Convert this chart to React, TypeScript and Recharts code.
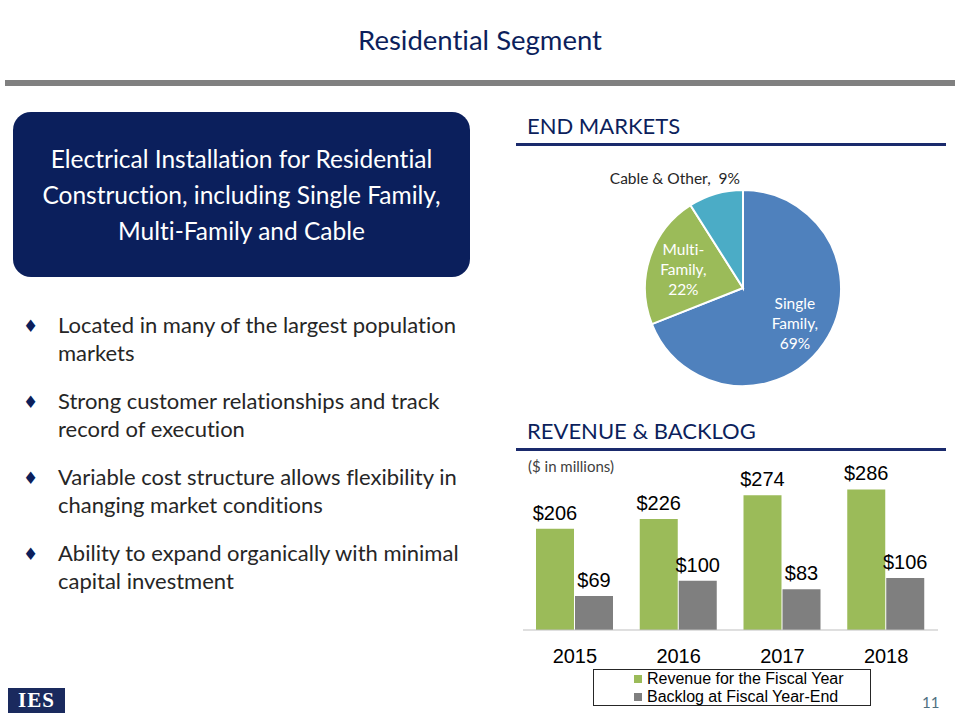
import React from 'react'
import {
  Bar,
  BarChart,
  Cell,
  LabelList,
  Pie,
  PieChart,
  XAxis,
  YAxis,
} from 'recharts'

const NAVY = '#0c1f5c'
const SANS = 'Lato, "Open Sans", sans-serif'
const ARIAL = '"Liberation Sans", Arial, sans-serif'

// end markets pie
const marketNames = ['Single Family', 'Multi-Family', 'Cable & Other']
const marketShares = [69, 22, 9]
const marketColors = ['#4f81bd', '#9bbb59', '#4bacc6']

// revenue & backlog bars
const years = ['2015', '2016', '2017', '2018']
const revenue = [206, 226, 274, 286]
const backlog = [69, 100, 83, 106]
const boundaryTicks = [0, 1, 2, 3, 4]

const bullets = [
  ['Located in many of the largest population', 'markets'],
  ['Strong customer relationships and track', 'record of execution'],
  ['Variable cost structure allows flexibility in', 'changing market conditions'],
  ['Ability to expand organically with minimal', 'capital investment'],
]

const pieData = marketNames.map((name, i) => ({
  name,
  value: marketShares[i],
}))

const barData = years.map((year, i) => ({
  year,
  revenue: revenue[i],
  backlog: backlog[i],
}))

const RAD = Math.PI / 180

function PieLabel(props: any) {
  const { cx, cy, midAngle, outerRadius, index, value, name } = props
  if (index === 2) {
    return (
      <text
        x={cx - 3}
        y={cy - outerRadius - 12}
        textAnchor="end"
        dominantBaseline="central"
        fill="#262626"
        fontFamily={SANS}
        fontSize={15.5}
        style={{ fontVariantLigatures: 'none' }}
      >
        {`${name},\u00a0\u00a0${value}%`}
      </text>
    )
  }
  const r = outerRadius * 0.64
  const x = cx + r * Math.cos(-midAngle * RAD)
  const y = cy + r * Math.sin(-midAngle * RAD)
  const lines =
    index === 0
      ? ['Single', 'Family,', `${value}%`]
      : ['Multi-', 'Family,', `${value}%`]
  return (
    <text
      x={x}
      y={y}
      textAnchor="middle"
      fill="#ffffff"
      fontFamily={SANS}
      fontSize={15.5}
      style={{ fontVariantLigatures: 'none' }}
    >
      {lines.map((l, i) => (
        <tspan key={i} x={x} y={y + (i - 1) * 20} dominantBaseline="central">
          {l}
        </tspan>
      ))}
    </text>
  )
}

function SectionHeader({ top, label }: { top: number; label: string }) {
  return (
    <>
      <div
        style={{
          position: 'absolute',
          left: 527,
          top,
          fontFamily: SANS,
          fontSize: 22,
          color: NAVY,
          lineHeight: '28px',
        }}
      >
        {label}
      </div>
      <div
        style={{
          position: 'absolute',
          left: 516,
          top: top + 31,
          width: 430,
          height: 3,
          background: '#1a2a6c',
        }}
      />
    </>
  )
}

export default function App() {
  return (
    <div
      style={{
        position: 'absolute',
        left: 0,
        top: 0,
        width: 960,
        height: 720,
        background: '#fff',
        overflow: 'hidden',
        fontFamily: SANS,
        fontVariantLigatures: 'none',
      }}
    >
      <div
        style={{
          position: 'absolute',
          left: 0,
          top: 22,
          width: 960,
          textAlign: 'center',
          fontSize: 27.5,
          color: NAVY,
          lineHeight: '36px',
        }}
      >
        Residential Segment
      </div>
      <div
        style={{
          position: 'absolute',
          left: 5,
          top: 80,
          width: 950,
          height: 6,
          background: '#808080',
        }}
      />

      <div
        style={{
          position: 'absolute',
          left: 13,
          top: 112,
          width: 457,
          height: 165,
          borderRadius: 18,
          background: '#0b1f5c',
          color: '#fff',
          textAlign: 'center',
          fontSize: 24.5,
          lineHeight: '36px',
          paddingTop: 29,
          boxSizing: 'border-box',
          whiteSpace: 'nowrap',
        }}
      >
        Electrical Installation for Residential
        <br />
        Construction, including Single Family,
        <br />
        Multi-Family and Cable
      </div>

      {bullets.map((b, i) => (
        <div
          key={i}
          style={{
            position: 'absolute',
            left: 0,
            top: 311 + i * 76,
            width: 480,
          }}
        >
          <span
            style={{
              position: 'absolute',
              left: 23,
              top: 2,
              fontSize: 17,
              color: NAVY,
              lineHeight: '26px',
              fontFamily: '"DejaVu Sans", sans-serif',
            }}
          >
            ♦
          </span>
          <div
            style={{
              position: 'absolute',
              left: 58,
              top: 0,
              fontSize: 22,
              lineHeight: '28px',
              color: '#262626',
              whiteSpace: 'nowrap',
            }}
          >
            {b[0]}
            <br />
            {b[1]}
          </div>
        </div>
      ))}

      <SectionHeader top={112} label="END MARKETS" />
      <div style={{ position: 'absolute', left: 520, top: 150 }}>
        <PieChart width={420} height={250}>
          <Pie
            data={pieData}
            dataKey="value"
            nameKey="name"
            cx={218}
            cy={133}
            outerRadius={98}
            startAngle={90}
            endAngle={-270}
            stroke="#ffffff"
            strokeWidth={2}
            label={PieLabel}
            labelLine={false}
            isAnimationActive={false}
          >
            {pieData.map((_, i) => (
              <Cell key={i} fill={marketColors[i]} />
            ))}
          </Pie>
        </PieChart>
      </div>

      <SectionHeader top={417} label="REVENUE & BACKLOG" />
      <div
        style={{
          position: 'absolute',
          left: 528,
          top: 457,
          fontSize: 15,
          color: '#404040',
        }}
      >
        ($ in millions)
      </div>
      <div style={{ position: 'absolute', left: 500, top: 440 }}>
        <BarChart
          width={460}
          height={236}
          data={barData}
          margin={{ top: 18, right: 22, bottom: 0, left: 23 }}
          barGap={1}
        >
          <XAxis
            xAxisId="a"
            type="number"
            domain={[0, 4]}
            ticks={boundaryTicks}
            tick={false}
            tickSize={6}
            height={6}
            axisLine={{ stroke: '#bfbfbf' }}
            tickLine={{ stroke: '#bfbfbf' }}
          />
          <XAxis
            xAxisId="b"
            dataKey="year"
            axisLine={false}
            tickLine={false}
            tickMargin={7}
            height={40}
            tick={{ fill: '#000', fontFamily: ARIAL, fontSize: 20 }}
          />
          <YAxis hide domain={[0, 350]} />
          <Bar
            xAxisId="b"
            dataKey="revenue"
            fill="#9bbb59"
            barSize={38}
            isAnimationActive={false}
          >
            <LabelList
              dataKey="revenue"
              position="top"
              offset={9}
              formatter={(v: any) => `$${v}`}
              style={{ fill: '#000', fontFamily: ARIAL, fontSize: 20 }}
            />
          </Bar>
          <Bar
            xAxisId="b"
            dataKey="backlog"
            fill="#7f7f7f"
            barSize={38}
            isAnimationActive={false}
          >
            <LabelList
              dataKey="backlog"
              position="top"
              offset={9}
              formatter={(v: any) => `$${v}`}
              style={{ fill: '#000', fontFamily: ARIAL, fontSize: 20 }}
            />
          </Bar>
        </BarChart>
      </div>

      <div
        style={{
          position: 'absolute',
          left: 593,
          top: 669,
          width: 278,
          height: 37,
          border: '1px solid #262626',
          boxSizing: 'border-box',
          fontFamily: ARIAL,
          fontSize: 16,
          lineHeight: '18px',
          color: '#000',
          paddingLeft: 53,
          paddingTop: 0,
        }}
      >
        {[
          { label: 'Revenue for the Fiscal Year', color: '#9bbb59' },
          { label: 'Backlog at Fiscal Year-End', color: '#7f7f7f' },
        ].map((item) => (
          <div key={item.label} style={{ position: 'relative', whiteSpace: 'nowrap' }}>
            <span
              style={{
                position: 'absolute',
                left: -13,
                top: 5,
                width: 8,
                height: 8,
                background: item.color,
              }}
            />
            {item.label}
          </div>
        ))}
      </div>

      <div
        style={{
          position: 'absolute',
          left: 922,
          top: 693,
          fontSize: 15,
          color: '#50707f',
        }}
      >
        11
      </div>

      <div
        style={{
          position: 'absolute',
          left: 8,
          top: 688,
          width: 57,
          height: 25,
          background: '#1a2a5e',
          color: '#fff',
          fontFamily: '"Liberation Serif", serif',
          fontWeight: 'bold',
          fontSize: 21,
          lineHeight: '25px',
          textAlign: 'center',
          letterSpacing: 1,
        }}
      >
        IES
      </div>
    </div>
  )
}
